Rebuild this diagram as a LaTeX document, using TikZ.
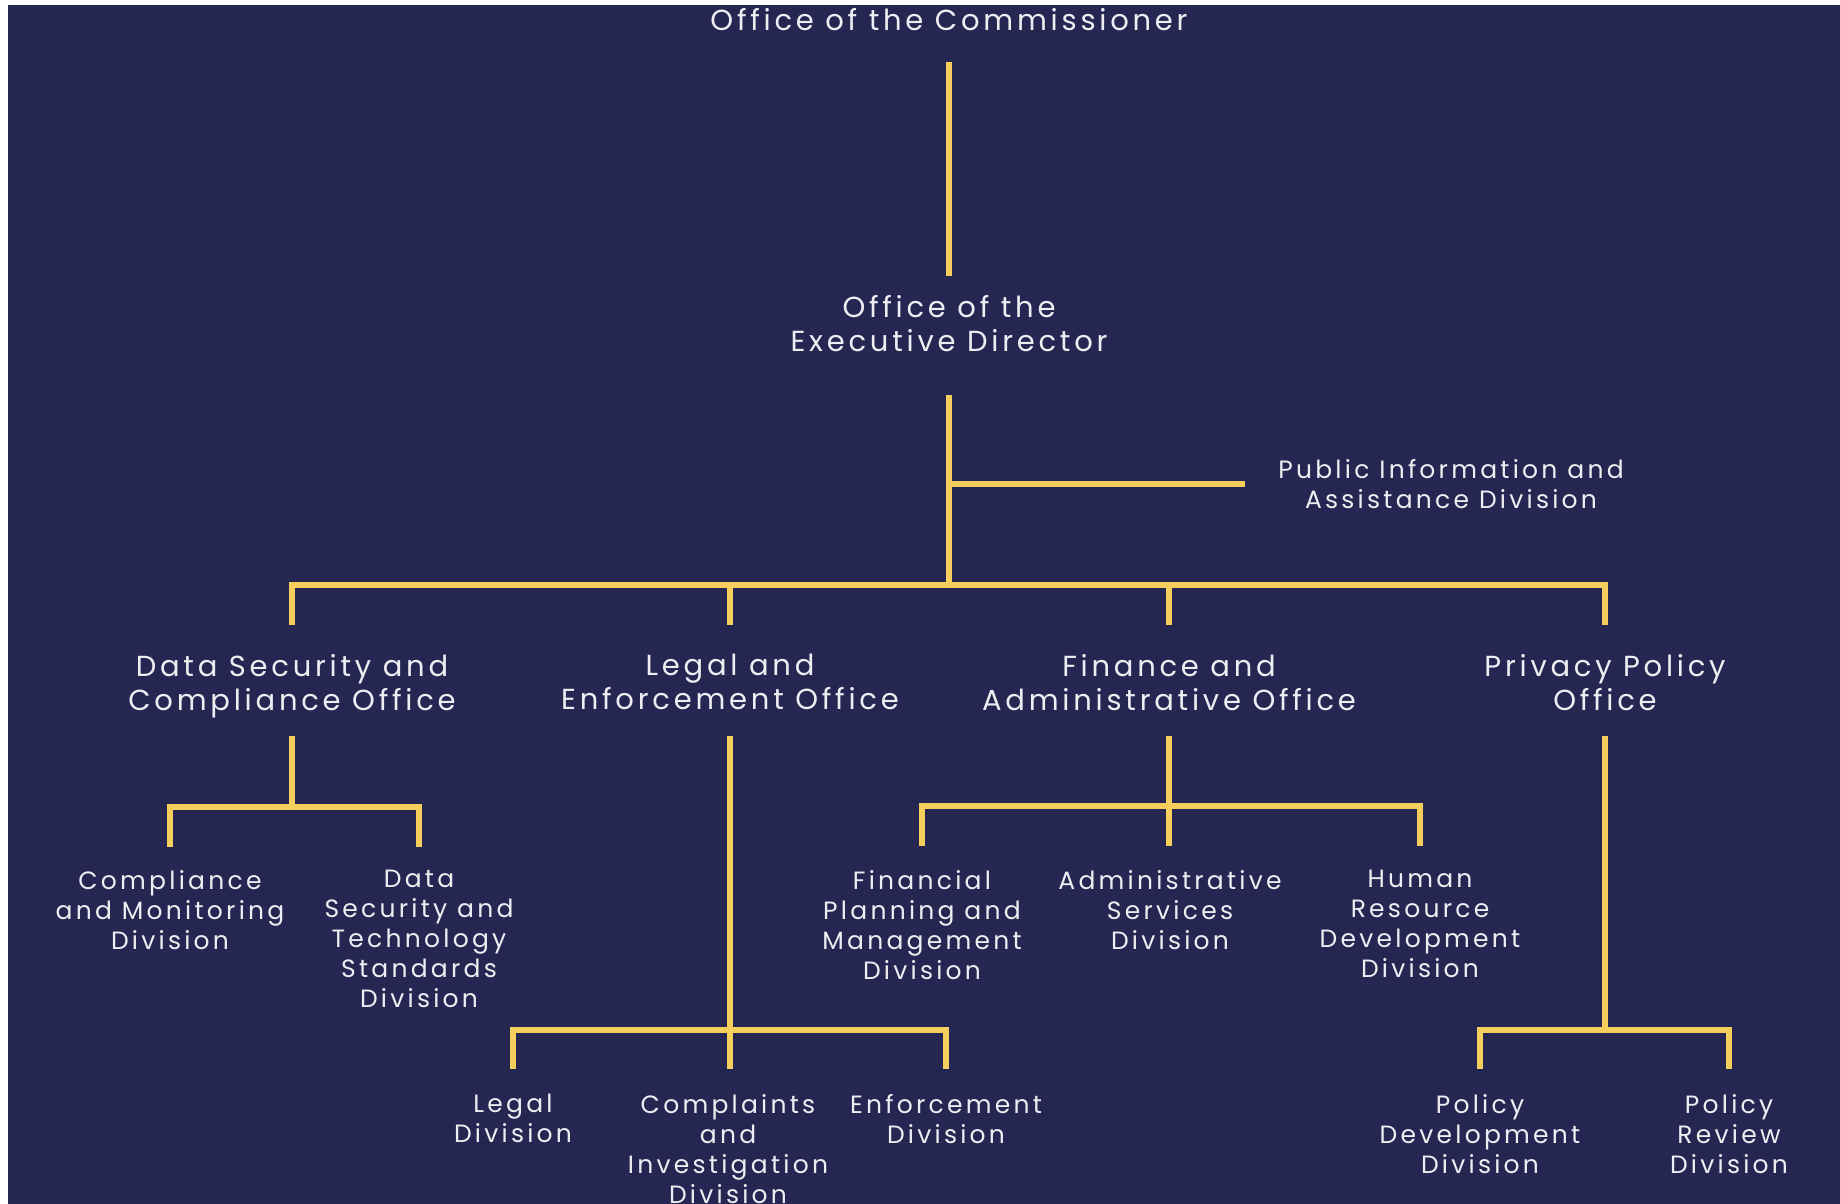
\documentclass[tikz,border=0pt]{standalone}
\usepackage{fontspec}
\setmainfont[LetterSpace=13]{Poppins}
\usetikzlibrary{positioning}
\definecolor{navy}{RGB}{37,39,82}
\definecolor{gold}{RGB}{246,206,92}
\definecolor{chalk}{RGB}{238,238,242}
\tikzset{
  office/.style={text=chalk, align=center, inner sep=0pt, anchor=north,
    font=\fontsize{29}{34}\selectfont},
  division/.style={office, font=\fontsize{25}{30}\selectfont},
  link/.style={draw=gold, line width=6pt}
}
\begin{document}
\begin{tikzpicture}[x=1pt, y=-1pt]
  \useasboundingbox (0,0) rectangle (1840,1204);
  \fill[white] (0,0) rectangle (1840,1204);
  \fill[navy] (8,5) rectangle (1840,1204);

  \node[office] (comm) at (949,8) {Office of the Commissioner};
  \node[office] (exec) at (949,295) {Office of the\\Executive Director};
  \node[division] (pub) at (1451,459) {Public Information and\\Assistance Division};

  \node[office] (ds)    at (292,654)  {Data Security and\\Compliance Office};
  \node[office] (legal) at (730,654)  {Legal and\\Enforcement Office};
  \node[office] (fin)   at (1169,654) {Finance and\\Administrative Office};
  \node[office] (priv)  at (1605,654) {Privacy Policy\\Office};

  \node[division] (cmd) at (170,870)  {Compliance\\and Monitoring\\Division};
  \node[division] (dst) at (419,870)  {Data\\Security and\\Technology\\Standards\\Division};
  \node[division] (fpm) at (922,870)  {Financial\\Planning and\\Management\\Division};
  \node[division] (asd) at (1170,870) {Administrative\\Services\\Division};
  \node[division] (hrd) at (1420,870) {Human\\Resource\\Development\\Division};

  \node[division] (lgl) at (513,1094)  {Legal\\Division};
  \node[division] (cid) at (728,1094)  {Complaints\\and\\Investigation\\Division};
  \node[division] (enf) at (946,1094)  {Enforcement\\Division};
  \node[division] (pdd) at (1480,1094) {Policy\\Development\\Division};
  \node[division] (prd) at (1729,1094) {Policy\\Review\\Division};

  \coordinate (hub) at ([yshift=-290pt]exec.north);
  \coordinate (dshub) at ([yshift=-153pt]ds.north);
  \coordinate (finhub) at ([yshift=-152pt]fin.north);
  \coordinate (leghub) at ([yshift=-376pt]legal.north);
  \coordinate (privhub) at ([yshift=-376pt]priv.north);

  \draw[link] ([yshift=-54pt]comm.north) -- ([yshift=19pt]exec.north);
  \draw[link] ([yshift=-100pt]exec.north) -- (hub);
  \draw[link] (hub |- pub.west) -- ([xshift=-33pt]pub.west);
  \draw[link] ([yshift=29pt]ds.north) |- (hub) -| ([yshift=29pt]priv.north);
  \draw[link] (legal.north |- hub) -- ([yshift=29pt]legal.north);
  \draw[link] (fin.north |- hub) -- ([yshift=29pt]fin.north);

  \draw[link] ([yshift=-82pt]ds.north) -- (dshub);
  \draw[link] ([yshift=23pt]cmd.north) |- (dshub) -| ([yshift=23pt]dst.north);

  \draw[link] ([yshift=-82pt]legal.north) -- ([yshift=25pt]legal.north |- cid.north);
  \draw[link] ([yshift=25pt]lgl.north) |- (leghub) -| ([yshift=25pt]enf.north);

  \draw[link] ([yshift=-82pt]fin.north) -- ([yshift=24pt]fin.north |- asd.north);
  \draw[link] ([yshift=24pt]fpm.north) |- (finhub) -| ([yshift=24pt]hrd.north);

  \draw[link] ([yshift=-82pt]priv.north) -- (privhub);
  \draw[link] ([yshift=25pt]pdd.north) |- (privhub) -| ([yshift=25pt]prd.north);
\end{tikzpicture}
\end{document}
